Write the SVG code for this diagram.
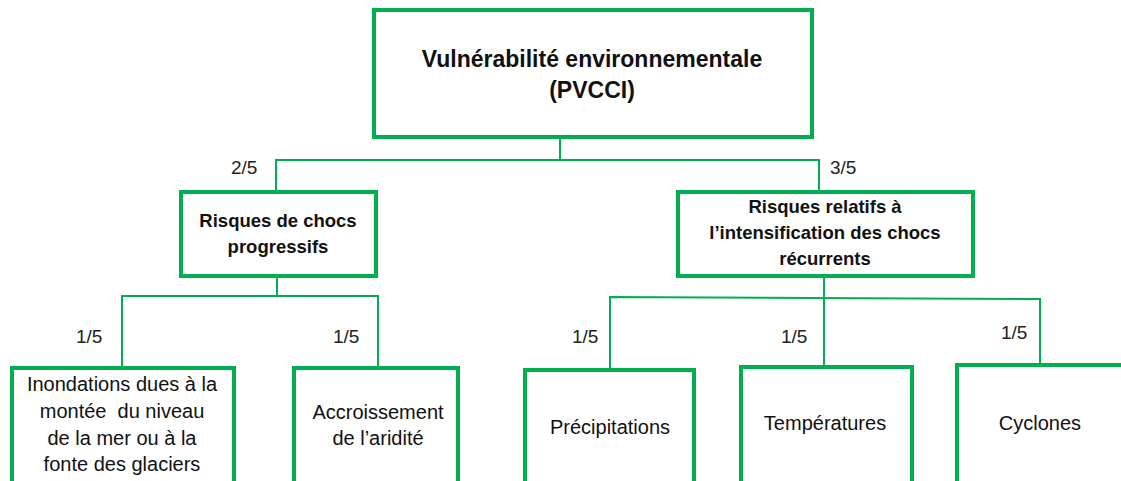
<svg xmlns="http://www.w3.org/2000/svg" width="1121" height="481" viewBox="0 0 1121 481">
<style>
.box{fill:#fff;stroke:#00B050;stroke-width:4}
.con{fill:none;stroke:#00B050;stroke-width:2}
.t{font-family:"Liberation Sans",Arial,sans-serif;fill:#111;text-anchor:middle}
.b{font-weight:bold}
.top{font-size:23px}
.sub{font-size:18.5px}
.leaf{font-size:20px}
.lbl{font-family:"Liberation Sans",Arial,sans-serif;fill:#222;font-size:19px}
</style>
<rect width="1121" height="481" fill="#fff"/>
<g id="connectors">
<polyline class="con" points="560,137 560,160"/>
<polyline class="con" points="276,193 276,160 819,160 819,193"/>
<polyline class="con" points="277,276 277,296"/>
<polyline class="con" points="122,368 122,296 378,296 378,368"/>
<polyline class="con" points="824,276 824,298"/>
<polyline class="con" points="610,370 610,297 1040,299 1040,365"/>
<polyline class="con" points="824,298 824,367"/>
<text class="lbl" x="231" y="174">2/5</text>
<text class="lbl" x="830" y="174">3/5</text>
<text class="lbl" x="76" y="343">1/5</text>
<text class="lbl" x="333" y="343">1/5</text>
<text class="lbl" x="572" y="343">1/5</text>
<text class="lbl" x="781" y="343">1/5</text>
<text class="lbl" x="1001" y="339">1/5</text>
</g>
<g id="root">
<rect class="box" x="374" y="10" width="438" height="127"/>
<text class="t b top" x="592" y="67">Vulnérabilité environnementale</text>
<text class="t b top" x="592" y="98">(PVCCI)</text>
</g>
<g id="progressifs">
<rect class="box" x="181" y="192" width="195" height="84"/>
<text class="t b sub" x="278" y="227">Risques de chocs</text>
<text class="t b sub" x="278" y="253">progressifs</text>
</g>
<g id="recurrents">
<rect class="box" x="678" y="192" width="295" height="84"/>
<text class="t b sub" x="825" y="213">Risques relatifs à</text>
<text class="t b sub" x="825" y="239">l’intensification des chocs</text>
<text class="t b sub" x="825" y="265">récurrents</text>
</g>
<g id="inondations">
<rect class="box" x="12" y="368" width="222" height="115"/>
<text class="t leaf" x="122" y="391">Inondations dues à la</text>
<text class="t leaf" x="122" y="418" xml:space="preserve">montée  du niveau</text>
<text class="t leaf" x="122" y="445">de la mer ou à la</text>
<text class="t leaf" x="122" y="471">fonte des glaciers</text>
</g>
<g id="aridite">
<rect class="box" x="294" y="368" width="164" height="115"/>
<text class="t leaf" x="378" y="419">Accroissement</text>
<text class="t leaf" x="378" y="445">de l’aridité</text>
</g>
<g id="precipitations">
<rect class="box" x="525" y="370" width="169" height="113"/>
<text class="t leaf" x="610" y="434">Précipitations</text>
</g>
<g id="temperatures">
<rect class="box" x="741" y="367" width="171" height="116"/>
<text class="t leaf" x="825" y="430">Températures</text>
</g>
<g id="cyclones">
<rect class="box" x="957" y="365" width="180" height="118"/>
<text class="t leaf" x="1040" y="430">Cyclones</text>
</g>
</svg>
